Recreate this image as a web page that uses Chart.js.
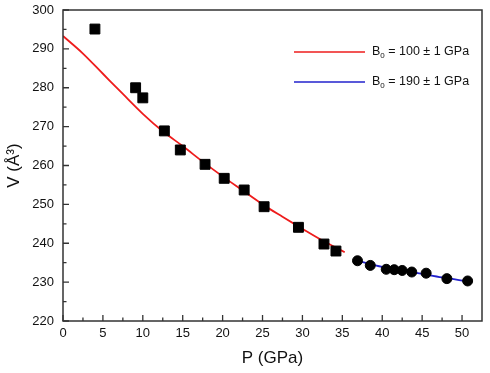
<!DOCTYPE html>
<html>
<head>
<meta charset="utf-8">
<script src="https://cdn.jsdelivr.net/npm/chart.js@4/dist/chart.umd.min.js"></script>
<style>
  html, body { margin: 0; padding: 0; background: #fff; }
  #wrap { width: 490px; height: 373px; }
</style>
</head>
<body>
<div id="wrap"><canvas id="myChart"></canvas></div>
<script>
// measured points (squares, low pressure phase)
const squareP = [4.0, 9.1, 10.0, 12.7, 14.7, 17.8, 20.2, 22.7, 25.2, 29.5, 32.7, 34.2];
const squareV = [295.1, 280.0, 277.4, 268.9, 264.0, 260.3, 256.7, 253.7, 249.4, 244.1, 239.8, 238.0];

// measured points (circles, high pressure phase)
const circleP = [36.9, 38.5, 40.5, 41.5, 42.5, 43.7, 45.5, 48.1, 50.7];
const circleV = [235.5, 234.3, 233.3, 233.2, 233.0, 232.6, 232.3, 230.9, 230.3];

// fit curves
const redFitP = [0, 2.5, 5, 7.5, 10, 12.5, 15, 17.5, 20, 22.5, 25, 27.5, 30, 32.5, 35.3];
const redFitV = [293.3, 288.8, 283.6, 278.4, 273.3, 268.8, 265.0, 261.0, 257.2, 253.6, 250.0, 246.8, 243.7, 240.7, 237.7];
const blueFitP = [36.9, 40, 42.5, 45, 47.5, 50.7];
const blueFitV = [235.5, 233.9, 233.0, 232.1, 231.2, 230.2];

// tick labels
const xTicks = [0, 5, 10, 15, 20, 25, 30, 35, 40, 45, 50];
const yTicks = [220, 230, 240, 250, 260, 270, 280, 290, 300];

const legendLabels = ["100 ± 1 GPa", "190 ± 1 GPa"];

const font = "'Liberation Sans', Arial, sans-serif";
const axisColor = "#333333";
const redColor = "#ee1c1c";
const blueColor = "#2222cc";

function toXY(xs, ys) {
  return xs.map((x, i) => ({ x: x, y: ys[i] }));
}

// ticks pointing inward + frame on all four sides + legend in the plot
const framePlugin = {
  id: "frame",
  afterDraw(chart) {
    const ctx = chart.ctx;
    const a = chart.chartArea;
    const xs = chart.scales.x;
    const ys = chart.scales.y;
    ctx.save();
    ctx.strokeStyle = axisColor;
    ctx.lineWidth = 1.5;
    ctx.strokeRect(a.left, a.top, a.right - a.left, a.bottom - a.top);

    ctx.lineWidth = 1.3;
    ctx.beginPath();
    xTicks.forEach((t, i) => {
      let px = xs.getPixelForValue(t);
      ctx.moveTo(px, a.bottom);
      ctx.lineTo(px, a.bottom - 6);
      let mid = xs.getPixelForValue(t + 2.5);
      if (mid < a.right - 2) {
        ctx.moveTo(mid, a.bottom);
        ctx.lineTo(mid, a.bottom - 3.5);
      }
    });
    yTicks.forEach((t) => {
      let py = ys.getPixelForValue(t);
      ctx.moveTo(a.left, py);
      ctx.lineTo(a.left + 6, py);
      let mid = ys.getPixelForValue(t + 5);
      if (mid > a.top + 2) {
        ctx.moveTo(a.left, mid);
        ctx.lineTo(a.left + 3.5, mid);
      }
    });
    ctx.stroke();

    // legend
    const colors = [redColor, blueColor];
    legendLabels.forEach((lab, i) => {
      let y = 52 + i * 30;
      ctx.strokeStyle = colors[i];
      ctx.lineWidth = 1.6;
      ctx.beginPath();
      ctx.moveTo(294, y);
      ctx.lineTo(365, y);
      ctx.stroke();
      ctx.fillStyle = "#111";
      ctx.textBaseline = "middle";
      ctx.textAlign = "left";
      ctx.font = "12.5px " + font;
      ctx.fillText("B", 372, y);
      let w = ctx.measureText("B").width;
      ctx.font = "8px " + font;
      ctx.fillText("0", 372 + w, y + 4);
      let w2 = ctx.measureText("0").width;
      ctx.font = "12.5px " + font;
      ctx.fillText(" = " + lab, 372 + w + w2, y);
    });
    ctx.restore();
  },
};

const ctx = document.getElementById("myChart");
new Chart(ctx, {
  type: "scatter",
  data: {
    datasets: [
      {
        label: "squares",
        data: toXY(squareP, squareV),
        pointStyle: "rect",
        pointRadius: 7,
        pointBackgroundColor: "#000",
        pointBorderColor: "#000",
        showLine: false,
        order: 0,
      },
      {
        label: "circles",
        data: toXY(circleP, circleV),
        pointStyle: "circle",
        pointRadius: 5,
        pointBackgroundColor: "#000",
        pointBorderColor: "#000",
        showLine: false,
        order: 0,
      },
      {
        label: "fit1",
        data: toXY(redFitP, redFitV),
        showLine: true,
        borderColor: redColor,
        borderWidth: 1.8,
        pointRadius: 0,
        cubicInterpolationMode: "monotone",
        order: 1,
      },
      {
        label: "fit2",
        data: toXY(blueFitP, blueFitV),
        showLine: true,
        borderColor: blueColor,
        borderWidth: 1.8,
        pointRadius: 0,
        cubicInterpolationMode: "monotone",
        order: 1,
      },
    ],
  },
  options: {
    responsive: true,
    maintainAspectRatio: false,
    animation: false,
    layout: { padding: { top: 10, right: 4, left: 0, bottom: 0 } },
    plugins: { legend: { display: false }, tooltip: { enabled: false } },
    scales: {
      x: {
        type: "linear",
        min: 0,
        max: 52.5,
        afterBuildTicks: (scale) => {
          scale.ticks = xTicks.map((v) => ({ value: v }));
        },
        afterFit: (scale) => {
          scale.height = 52;
          scale.paddingLeft = 0;
          scale.paddingRight = 0;
        },
        grid: { display: false, drawTicks: false },
        border: { display: false },
        ticks: { padding: 5, color: "#111", font: { size: 13, family: font }, maxRotation: 0 },
        title: {
          display: true,
          text: "P (GPa)",
          color: "#111",
          font: { size: 17, family: font },
          padding: { top: 0, bottom: 4 },
        },
      },
      y: {
        type: "linear",
        min: 220,
        max: 300,
        afterBuildTicks: (scale) => {
          scale.ticks = yTicks.map((v) => ({ value: v }));
        },
        afterFit: (scale) => {
          scale.width = 63;
          scale.paddingTop = 0;
          scale.paddingBottom = 0;
        },
        grid: { display: false, drawTicks: false },
        border: { display: false },
        ticks: { padding: 9, color: "#111", font: { size: 13, family: font } },
        title: {
          display: true,
          text: "V (Å³)",
          color: "#111",
          font: { size: 17, family: font },
          padding: { top: 4, bottom: 0 },
        },
      },
    },
  },
  plugins: [framePlugin],
});
</script>
</body>
</html>
